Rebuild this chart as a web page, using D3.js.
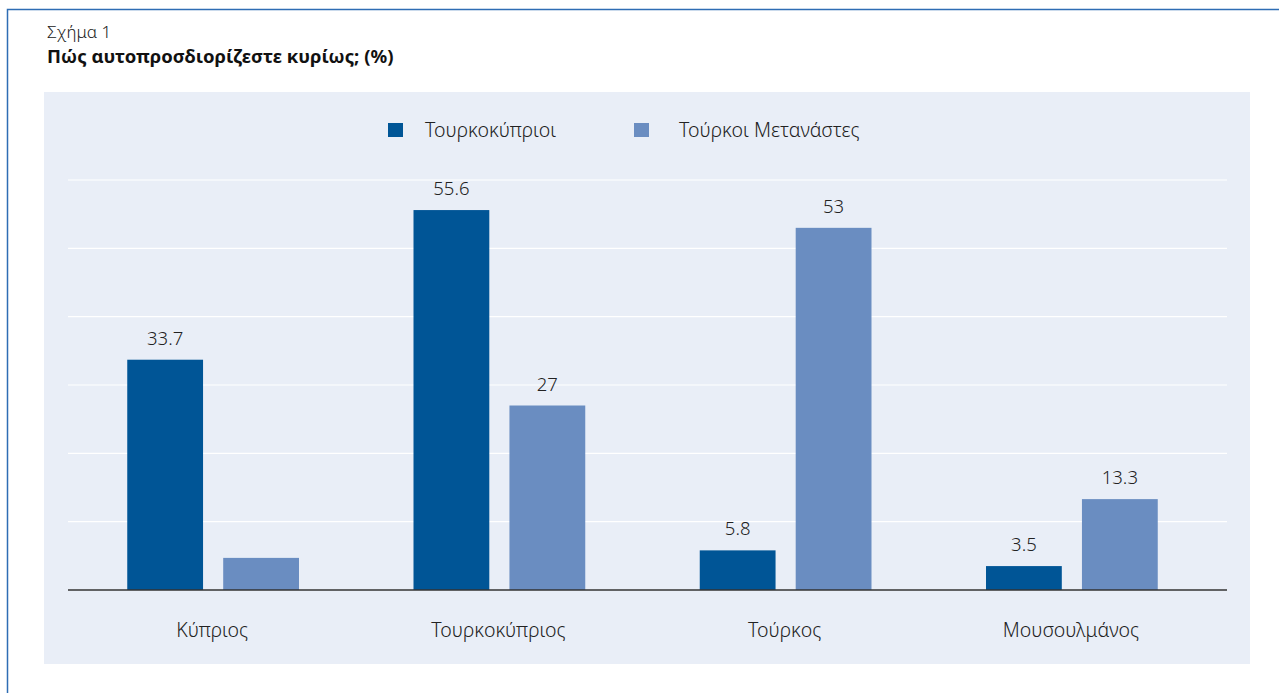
<!DOCTYPE html>
<html>
<head>
<meta charset="utf-8">
<script src="https://cdn.jsdelivr.net/npm/d3@7"></script>
<style>
  body { margin: 0; background: #fff; }
  svg { display: block; font-family: "Noto Sans", "Open Sans", sans-serif; }
</style>
</head>
<body>
<div id="chart"></div>
<script>
const categories = ['Κύπριος', 'Τουρκοκύπριος', 'Τούρκος', 'Μουσουλμάνος'];
const seriesNames = ['Τουρκοκύπριοι', 'Τούρκοι Μετανάστες'];
const turkishCypriots = [33.7, 55.6, 5.8, 3.5];
const turkishMigrants = [4.7, 27, 53, 13.3];
// the small bar has no printed value in the original
const migrantLabels = [null, '27', '53', '13.3'];
const cypriotLabels = ['33.7', '55.6', '5.8', '3.5'];
const gridValues = [10, 20, 30, 40, 50, 60];

const colors = ['#005596', '#6a8dc1'];

const width = 1279, height = 693;

const svg = d3.select('#chart')
    .append('svg')
    .attr('width', width)
    .attr('height', height);

// outer frame (left + top edges visible)
svg.append('path')
    .attr('d', 'M7.5,693 V9.5 H1279')
    .attr('fill', 'none')
    .attr('stroke', '#2e6db4')
    .attr('stroke-width', 1.5);

svg.append('text')
    .attr('x', 47).attr('y', 38)
    .attr('font-size', 17)
    .attr('font-weight', 300)
    .attr('fill', '#222')
    .text('Σχήμα 1');

svg.append('text')
    .attr('x', 47).attr('y', 63)
    .attr('font-size', 18.5)
    .attr('font-weight', 700)
    .attr('fill', '#111')
    .text('Πώς αυτοπροσδιορίζεστε κυρίως; (%)');

// panel
svg.append('rect')
    .attr('x', 44).attr('y', 92)
    .attr('width', 1206).attr('height', 572)
    .attr('fill', '#e9eef7');

const plotLeft = 68, plotRight = 1227;

const y = d3.scaleLinear().domain([0, 60]).range([590, 180]);

const x0 = d3.scaleBand()
    .domain(categories)
    .range([70, 1215])
    .paddingInner(0.4)
    .paddingOuter(0.2);

const x1 = d3.scaleBand()
    .domain(seriesNames)
    .range([0, x0.bandwidth()])
    .paddingInner(0.21);

// grid
svg.append('g')
    .selectAll('line')
    .data(gridValues)
    .join('line')
    .attr('x1', plotLeft).attr('x2', plotRight)
    .attr('y1', d => y(d)).attr('y2', d => y(d))
    .attr('stroke', '#fff')
    .attr('stroke-width', 1.2);

const rows = categories.map((c, i) => ({
    cat: c,
    vals: [
        {s: seriesNames[0], v: turkishCypriots[i], label: cypriotLabels[i], c: colors[0]},
        {s: seriesNames[1], v: turkishMigrants[i], label: migrantLabels[i], c: colors[1]}
    ]
}));

const groups = svg.append('g')
    .selectAll('g')
    .data(rows)
    .join('g')
    .attr('transform', d => `translate(${x0(d.cat)},0)`);

groups.selectAll('rect')
    .data(d => d.vals)
    .join('rect')
    .attr('x', d => x1(d.s))
    .attr('width', x1.bandwidth())
    .attr('y', d => y(d.v))
    .attr('height', d => y(0) - y(d.v))
    .attr('fill', d => d.c);

groups.selectAll('text.val')
    .data(d => d.vals.filter(v => v.label))
    .join('text')
    .attr('class', 'val')
    .attr('x', d => x1(d.s) + x1.bandwidth() / 2)
    .attr('y', d => y(d.v) - 15)
    .attr('text-anchor', 'middle')
    .attr('font-size', 18.5)
    .attr('font-weight', 300)
    .attr('fill', '#222')
    .text(d => d.label);

// baseline
svg.append('line')
    .attr('x1', plotLeft).attr('x2', plotRight)
    .attr('y1', y(0)).attr('y2', y(0))
    .attr('stroke', '#333')
    .attr('stroke-width', 1.5);

// category labels
svg.append('g')
    .selectAll('text')
    .data(categories)
    .join('text')
    .attr('x', d => x0(d) + x0.bandwidth() / 2 - 1)
    .attr('y', 637)
    .attr('text-anchor', 'middle')
    .attr('font-size', 19.5)
    .attr('font-weight', 300)
    .attr('fill', '#222')
    .text(d => d);

// legend
const legendX = [388, 634];
const legend = svg.append('g')
    .selectAll('g')
    .data(seriesNames)
    .join('g')
    .attr('transform', (d, i) => `translate(${legendX[i]},123)`);

legend.append('rect')
    .attr('width', 15).attr('height', 14)
    .attr('fill', (d, i) => colors[i]);

legend.append('text')
    .attr('x', (d, i) => i === 0 ? 37 : 45)
    .attr('y', 14)
    .attr('font-size', 19.5)
    .attr('font-weight', 300)
    .attr('fill', '#222')
    .text(d => d);
</script>
</body>
</html>
